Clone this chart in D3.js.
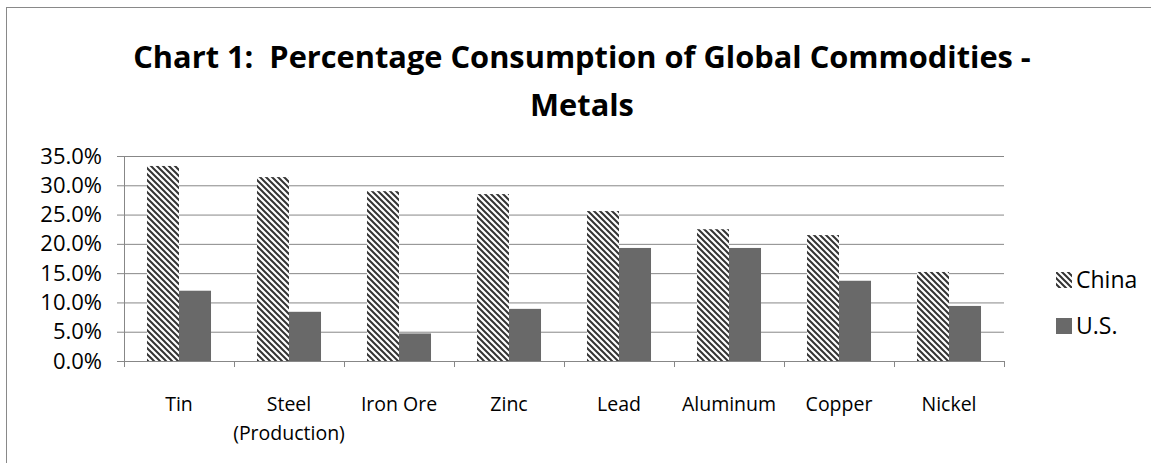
<!DOCTYPE html>
<html>
<head>
<meta charset="utf-8">
<script src="https://cdn.jsdelivr.net/npm/d3@7"></script>
<style>
  body { margin: 0; background: #fff; }
  text { font-family: 'Open Sans', 'Noto Sans', sans-serif; fill: #000; }
</style>
</head>
<body>
<div id="chart"></div>
<script>
'use strict';

// values (share of global consumption)
var categories = ['Tin', 'Steel (Production)', 'Iron Ore', 'Zinc', 'Lead', 'Aluminum', 'Copper', 'Nickel'];
var series     = ['China', 'U.S.'];
var china      = [0.333, 0.314, 0.290, 0.285, 0.256, 0.225, 0.215, 0.152];
var us         = [0.120, 0.084, 0.047, 0.089, 0.193, 0.193, 0.137, 0.094];
var yTicks     = [0, 0.05, 0.10, 0.15, 0.20, 0.25, 0.30, 0.35];
var titleLines = ['Chart 1:  Percentage Consumption of Global Commodities -', 'Metals'];

var W = 1151, H = 463;
var plot = { left: 124, right: 1004, top: 156, bottom: 361 };
var gridColor = '#878787';
var usColor   = '#696969';

var svg = d3.select('#chart')
  .append('svg')
  .attr('width', W)
  .attr('height', H);

// hatch for China: wide downward diagonal
var pat = svg.append('defs')
  .append('pattern')
  .attr('id', 'hatch')
  .attr('patternUnits', 'userSpaceOnUse')
  .attr('width', 6)
  .attr('height', 6);
pat.append('rect').attr('width', 6).attr('height', 6).attr('fill', '#fff');
pat.append('path')
  .attr('d', 'M-1,-1 L7,7 M-1,5 L1,7 M5,-1 L7,1')
  .attr('stroke', '#333')
  .attr('stroke-width', 2);

// chart area border (right/bottom edges fall outside the picture)
svg.append('rect')
  .attr('x', 6.5)
  .attr('y', 7.5)
  .attr('width', 1300)
  .attr('height', 600)
  .attr('fill', 'none')
  .attr('stroke', '#898989');

// title, sized so line 1 spans like the original
// (double space kept with a no-break space)
var title = svg.append('g').attr('font-weight', 'bold');
var t1 = title.append('text')
  .attr('x', 582)
  .attr('y', 68)
  .attr('text-anchor', 'middle')
  .style('font-size', '30px')
  .text(titleLines[0].replace(/  /g, ' \u00a0'));
var fs = 30 * 898 / t1.node().getComputedTextLength();
t1.style('font-size', fs + 'px');
title.append('text')
  .attr('x', 582)
  .attr('y', 116)
  .attr('text-anchor', 'middle')
  .style('font-size', fs + 'px')
  .text(titleLines[1]);

var x0 = d3.scaleBand()
  .domain(categories)
  .range([plot.left, plot.right])
  .paddingInner(0.418)
  .paddingOuter(0.209);

var x1 = d3.scaleBand()
  .domain(series)
  .range([0, x0.bandwidth()]);

var y = d3.scaleLinear()
  .domain([0, 0.35])
  .range([plot.bottom, plot.top]);

// gridlines + y labels
var yAxis = svg.append('g')
  .attr('transform', 'translate(' + plot.left + ',0)')
  .call(d3.axisLeft(y)
    .tickValues(yTicks)
    .tickFormat(d3.format('.1%'))
    .tickSizeInner(-(plot.right - plot.left))
    .tickSizeOuter(0)
    .tickPadding(22));
yAxis.select('.domain').attr('stroke', gridColor);
yAxis.selectAll('.tick line')
  .attr('stroke', gridColor)
  .attr('x1', -7);
yAxis.selectAll('.tick text')
  .attr('x', -22)
  .style('font-size', '22px');

// bars
var rows = categories.map(function (c, i) {
  return { cat: c, values: [china[i], us[i]] };
});

var groups = svg.append('g')
  .selectAll('g')
  .data(rows)
  .join('g')
  .attr('transform', function (d) { return 'translate(' + x0(d.cat) + ',0)'; });

groups.selectAll('rect')
  .data(function (d) { return d.values.map(function (v, j) { return { s: series[j], v: v }; }); })
  .join('rect')
  .attr('x', function (d) { return x1(d.s); })
  .attr('y', function (d) { return y(d.v); })
  .attr('width', x1.bandwidth())
  .attr('height', function (d) { return plot.bottom - y(d.v); })
  .attr('fill', function (d) { return d.s === 'China' ? 'url(#hatch)' : usColor; });

// x axis: tick marks at category boundaries
var xb = d3.scaleLinear()
  .domain([0, categories.length])
  .range([plot.left, plot.right]);

var xTicks = svg.append('g')
  .attr('transform', 'translate(0,' + plot.bottom + ')')
  .call(d3.axisBottom(xb)
    .ticks(categories.length)
    .tickFormat('')
    .tickSizeInner(6)
    .tickSizeOuter(0));
xTicks.select('.domain').attr('stroke', gridColor);
xTicks.selectAll('.tick line').attr('stroke', gridColor);

// category labels, wrapped before the bracket
var xAxis = svg.append('g')
  .attr('transform', 'translate(0,' + plot.bottom + ')')
  .call(d3.axisBottom(x0).tickSize(0).tickPadding(0));
xAxis.select('.domain').remove();
xAxis.selectAll('.tick text')
  .style('font-size', '19.5px')
  .attr('y', 0)
  .attr('dy', 0)
  .each(function (d) {
    var parts = d.split(' (');
    var el = d3.select(this).text(null);
    parts.forEach(function (p, k) {
      el.append('tspan')
        .attr('x', 0)
        .attr('y', 50 + k * 29)
        .text(k ? '(' + p : p);
    });
  });

// legend
var legend = svg.append('g')
  .selectAll('g')
  .data(series)
  .join('g')
  .attr('transform', function (d, i) { return 'translate(1056,' + (272 + i * 46) + ')'; });

legend.append('rect')
  .attr('width', 16)
  .attr('height', 16)
  .attr('fill', function (d) { return d === 'China' ? 'url(#hatch)' : usColor; });

legend.append('text')
  .attr('x', 20)
  .attr('y', 16)
  .style('font-size', '23px')
  .text(function (d) { return d; });
</script>
</body>
</html>
